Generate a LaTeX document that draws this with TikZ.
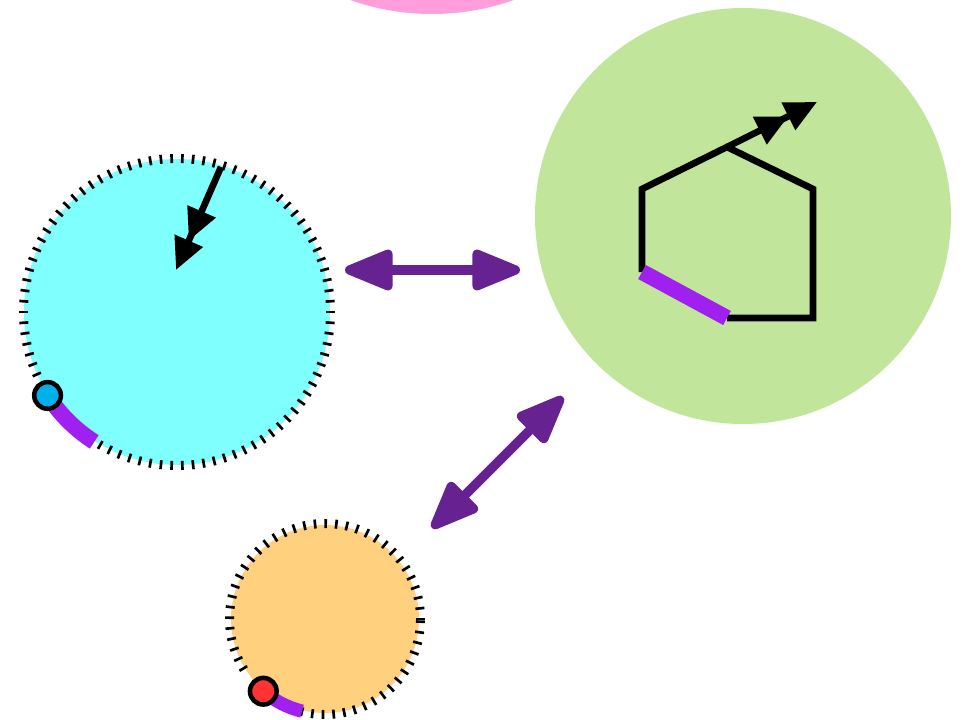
\documentclass[tikz,border=0pt]{standalone}
\usetikzlibrary{arrows.meta}

\definecolor{dialcyan}{HTML}{80FFFF}
\definecolor{dialorange}{HTML}{FFD17F}
\definecolor{blobgreen}{HTML}{C1E59A}
\definecolor{blobpink}{HTML}{FF9EDA}
\definecolor{dotblue}{HTML}{00B0EB}
\definecolor{dotred}{HTML}{FF3333}
\definecolor{hilite}{HTML}{A020F0}
\definecolor{linkpurple}{HTML}{662290}

\tikzset{
  tickmark/.style={line width=2pt},
  hiliteline/.style={hilite, line width=#1},
  knob/.style={circle, draw=black, line width=3.4pt, inner sep=0pt, minimum size=20pt},
  pointer/.style={line width=5pt, -{Triangle[length=24pt,width=22pt] Triangle[length=24pt,width=22pt]}},
  link/.style={linkpurple, line width=7pt,
    {Triangle[length=42pt,width=32pt,round]}-{Triangle[length=42pt,width=32pt,round]}}
}

\begin{document}
\begin{tikzpicture}[x=0.75pt,y=0.75pt]

\clip (0,0) rectangle (964,719);

\coordinate (cyanc) at (177,407);
\coordinate (orangec) at (325,100);
\coordinate (greenc) at (743,503);
\coordinate (pinkc) at (432,950);

\fill[blobpink] (pinkc) circle (245);    % top
\fill[blobgreen] (greenc) circle (208);  % right

% cyan dial
\fill[dialcyan] (cyanc) circle (153);
\foreach \a in {240,244,...,568}
  \draw[tickmark] ([shift={(\a:149)}]cyanc) -- ([shift={(\a:158)}]cyanc);
\draw[hiliteline=12pt] ([shift={(212.8:154)}]cyanc) arc[start angle=212.8, end angle=237.5, radius=154];
\node[knob, fill=dotblue] (blueknob) at ([shift={(212.8:154)}]cyanc) {};
\coordinate (handtail) at (221,552);
\coordinate (handtip) at (176,449);
\draw[pointer] (handtail) -- (handtip);

% orange dial
\fill[dialorange] (orangec) circle (94);
\foreach \a in {0,6.4,...,216}
  \draw[tickmark] ([shift={(\a:91)}]orangec) -- ([shift={(\a:100)}]orangec);
\foreach \a in {256,262.4,...,359}
  \draw[tickmark] ([shift={(\a:91)}]orangec) -- ([shift={(\a:100)}]orangec);
\draw[hiliteline=10pt] ([shift={(229.5:95)}]orangec) arc[start angle=229.5, end angle=256, radius=95];
\node[knob, fill=dotred] (redknob) at ([shift={(229.5:95)}]orangec) {};

% house shape
\coordinate (hA) at (642,530);
\coordinate (hB) at (727,572);
\coordinate (hC) at (813,530);
\coordinate (hD) at (813,401);
\coordinate (hE) at (727,401);
\coordinate (hF) at (642,447);
\draw[line width=5pt] (hE) -- (hD) -- (hC) -- (hB) -- (hA) -- (hF);
\draw[hiliteline=12pt] (hF) -- (hE);
\coordinate (housetip) at (817,617);
\draw[pointer] (hB) -- (housetip);

% links
\coordinate (linkl) at (345,449);
\coordinate (linkr) at (520,449);
\coordinate (linkd) at (432,191);
\coordinate (linku) at (563,322);
\draw[link] (linkl) -- (linkr);
\draw[link] (linkd) -- (linku);

\end{tikzpicture}
\end{document}
